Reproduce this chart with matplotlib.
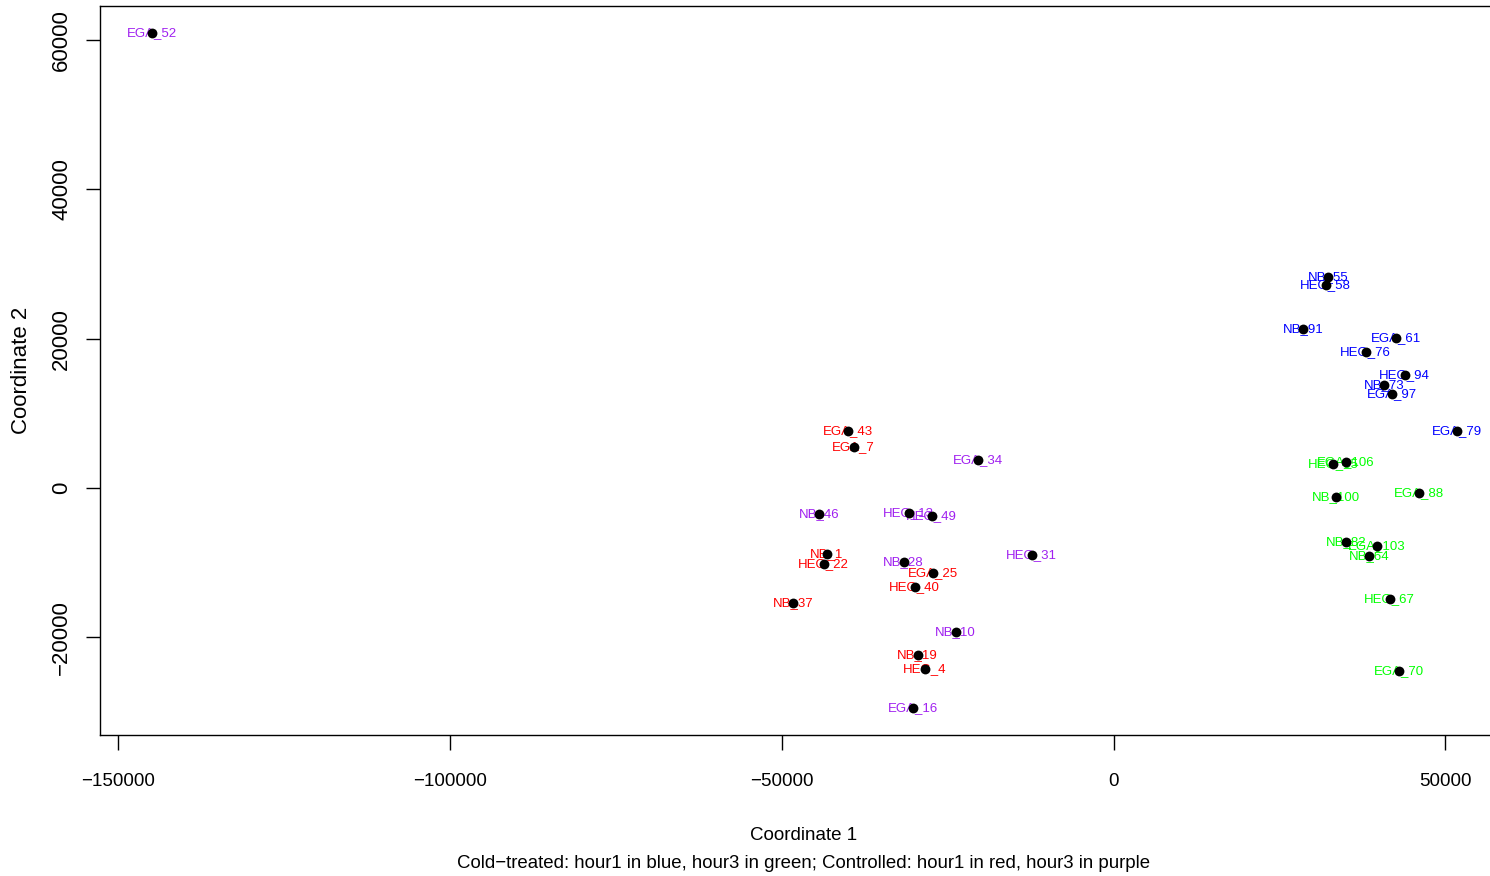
import matplotlib
matplotlib.use('Agg')
import matplotlib.pyplot as plt

plt.rcParams['font.family'] = ['Liberation Sans', 'DejaVu Sans']

# cold-treated, hour 1 (blue)
blue_names = ['NB_55', 'HEG_58', 'NB_91', 'EGA_61', 'HEG_76', 'HEG_94', 'NB_73', 'EGA_97', 'EGA_79']
blue_x = [32270, 31970, 28500, 42530, 38000, 43880, 40720, 41920, 51720]
blue_y = [28270, 27200, 21300, 20100, 18220, 15140, 13800, 12600, 7640]

# cold-treated, hour 3 (green)
green_names = ['EGA_106', 'HEG_85', 'NB_100', 'EGA_88', 'NB_82', 'EGA_103', 'NB_64', 'HEG_67', 'EGA_70']
green_x = [34990, 33030, 33480, 45990, 34990, 39660, 38450, 41620, 42980]
green_y = [3480, 3220, -1210, -670, -7240, -7770, -9110, -14870, -24520]

# controlled, hour 1 (red)
red_names = ['EGA_43', 'EGA_7', 'NB_1', 'HEG_22', 'EGA_25', 'HEG_40', 'NB_37', 'NB_19', 'HEG_4']
red_x = [-40110, -39210, -43280, -43730, -27290, -30010, -48260, -29560, -28500]
red_y = [7640, 5490, -8840, -10180, -11390, -13270, -15410, -22380, -24250]

# controlled, hour 3 (purple)
purple_names = ['EGA_52', 'EGA_34', 'NB_46', 'HEG_13', 'HEG_49', 'NB_28', 'HEG_31', 'NB_10', 'EGA_16']
purple_x = [-144920, -20510, -44340, -30910, -27450, -31670, -12370, -23830, -30310]
purple_y = [60970, 3750, -3480, -3350, -3750, -9920, -8980, -19300, -29480]

groups = [
    (blue_names, blue_x, blue_y, '#0000FF'),
    (green_names, green_x, green_y, '#00FF00'),
    (red_names, red_x, red_y, '#FF0000'),
    (purple_names, purple_x, purple_y, '#A020F0'),
]

fig = plt.figure(figsize=(14.9, 8.76), dpi=100)
ax = fig.add_axes([100 / 1490, 141 / 876, 1409 / 1490, 729 / 876])

all_x = blue_x + green_x + red_x + purple_x
all_y = blue_y + green_y + red_y + purple_y
xr = max(all_x) - min(all_x)
yr = max(all_y) - min(all_y)
ax.set_xlim(min(all_x) - 0.04 * xr, max(all_x) + 0.04 * xr)
ax.set_ylim(min(all_y) - 0.04 * yr, max(all_y) + 0.04 * yr)

for names, xs, ys, col in groups:
    for n, x, y in zip(names, xs, ys):
        ax.text(x, y, n, color=col, fontsize=9.5, ha='center', va='center', zorder=2)
    ax.scatter(xs, ys, s=50, color='black', zorder=3, linewidths=0)

ax.set_xticks([-150000, -100000, -50000, 0, 50000])
ax.set_yticks([-20000, 0, 20000, 40000, 60000])
ax.tick_params(axis='x', length=11, width=1, labelsize=13.5, pad=16)
ax.tick_params(axis='y', length=10, width=1, labelsize=16, pad=10)
for lab in ax.get_yticklabels():
    lab.set_rotation(90)
    lab.set_va('center')
for sp in ax.spines.values():
    sp.set_linewidth(1)

fig.text(804 / 1490, 1 - 835 / 876, 'Coordinate 1', fontsize=13.5, ha='center', va='center')
fig.text(804 / 1490, 1 - 863 / 876,
         'Cold\u2212treated: hour1 in blue, hour3 in green; Controlled: hour1 in red, hour3 in purple',
         fontsize=13.4, ha='center', va='center')
fig.text(22 / 1490, 1 - 370 / 876, 'Coordinate 2', fontsize=16, rotation=90, ha='center', va='center')

fig.savefig('out.png', dpi=100)
